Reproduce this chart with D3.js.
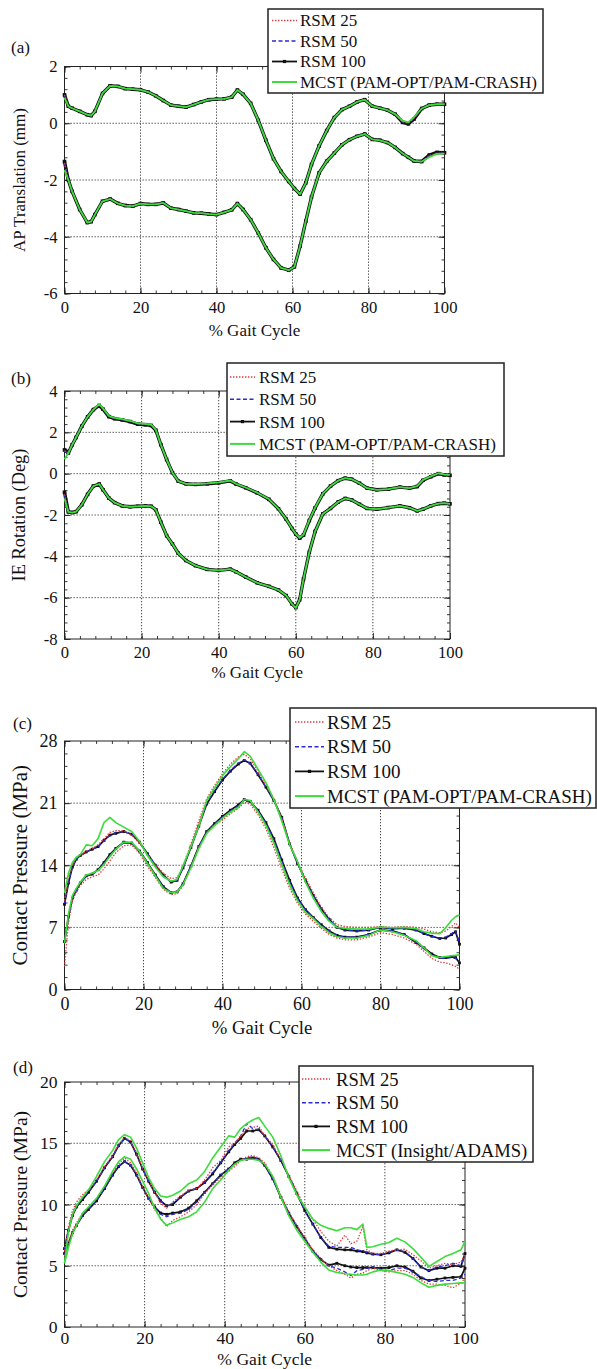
<!DOCTYPE html>
<html>
<head>
<meta charset="utf-8">
<script src="https://cdn.jsdelivr.net/npm/d3@7"></script>
<style>
  body { margin: 0; background: #fff; }
  svg { display: block; font-family: "Liberation Serif", "Times New Roman", serif; }
</style>
</head>
<body>
<div id="chart"></div>
<script>
// ---- data ----
const xTicks = [0, 20, 40, 60, 80, 100];

// (a) AP translation
const xA = [0,1,2,4,6,7,8,10,12,14,16,18,20,22,24,26,28,30,32,34,36,38,40,42,44,45.5,47,49,51,53,55,57,59,60.5,62,63.5,65,67,69,71,73,75,77,79,81,83,85,87,89,90.5,92,94,96,98,100];
const aUpMCST = [0.9,0.6,0.53,0.42,0.3,0.27,0.42,1.05,1.32,1.3,1.22,1.2,1.18,1.1,0.97,0.8,0.64,0.6,0.57,0.66,0.75,0.83,0.85,0.86,0.92,1.17,1.02,0.7,0.1,-0.6,-1.25,-1.7,-2.05,-2.3,-2.5,-2.1,-1.45,-0.8,-0.26,0.2,0.48,0.6,0.75,0.83,0.6,0.53,0.46,0.32,0.08,0.04,0.22,0.52,0.64,0.67,0.67];
const aUpR100 = [1.0,0.6,0.53,0.42,0.3,0.27,0.42,1.05,1.32,1.3,1.22,1.2,1.18,1.1,0.97,0.8,0.64,0.6,0.57,0.66,0.75,0.83,0.85,0.86,0.92,1.17,1.02,0.7,0.1,-0.6,-1.25,-1.7,-2.05,-2.3,-2.5,-2.1,-1.45,-0.8,-0.26,0.2,0.48,0.6,0.75,0.83,0.6,0.53,0.46,0.32,0.03,-0.02,0.15,0.52,0.64,0.67,0.67];
const aUpR50 = [1.0,0.6,0.53,0.42,0.3,0.27,0.42,1.05,1.32,1.3,1.22,1.2,1.18,1.1,0.97,0.8,0.64,0.6,0.57,0.66,0.75,0.83,0.85,0.86,0.92,1.17,1.02,0.7,0.1,-0.6,-1.25,-1.7,-2.05,-2.3,-2.5,-2.1,-1.45,-0.8,-0.26,0.2,0.48,0.6,0.75,0.83,0.6,0.53,0.46,0.32,0.04,0.0,0.17,0.52,0.64,0.67,0.67];
const aUpR25 = [1.0,0.6,0.53,0.42,0.3,0.27,0.42,1.05,1.32,1.3,1.22,1.2,1.18,1.1,0.97,0.8,0.64,0.6,0.57,0.66,0.75,0.83,0.85,0.83,0.92,1.17,1.02,0.7,0.1,-0.6,-1.25,-1.7,-2.05,-2.3,-2.5,-2.1,-1.45,-0.8,-0.26,0.2,0.48,0.6,0.75,0.83,0.6,0.53,0.46,0.32,0.05,0.01,0.18,0.52,0.64,0.67,0.67];
const aLoMCST = [-1.65,-2.0,-2.4,-3.04,-3.5,-3.47,-3.22,-2.75,-2.67,-2.82,-2.9,-2.92,-2.83,-2.86,-2.86,-2.81,-2.99,-3.04,-3.1,-3.16,-3.17,-3.2,-3.22,-3.14,-3.05,-2.83,-3.04,-3.4,-3.87,-4.39,-4.8,-5.1,-5.18,-5.06,-4.33,-3.45,-2.6,-1.75,-1.34,-1.05,-0.76,-0.58,-0.46,-0.38,-0.57,-0.6,-0.68,-0.85,-1.07,-1.2,-1.33,-1.35,-1.2,-1.08,-1.07];
const aLoR100 = [-1.35,-2.0,-2.4,-3.04,-3.5,-3.47,-3.22,-2.75,-2.67,-2.82,-2.9,-2.92,-2.83,-2.86,-2.86,-2.81,-2.99,-3.04,-3.1,-3.16,-3.17,-3.2,-3.22,-3.14,-3.05,-2.83,-3.04,-3.4,-3.87,-4.39,-4.8,-5.1,-5.18,-5.06,-4.33,-3.45,-2.6,-1.75,-1.34,-1.05,-0.76,-0.58,-0.46,-0.38,-0.57,-0.6,-0.68,-0.85,-1.07,-1.2,-1.33,-1.35,-1.12,-1.03,-1.04];
const aLoR50 = [-1.4,-2.0,-2.4,-3.04,-3.5,-3.47,-3.22,-2.75,-2.67,-2.82,-2.9,-2.92,-2.83,-2.86,-2.86,-2.81,-2.99,-3.04,-3.1,-3.16,-3.17,-3.2,-3.22,-3.14,-3.05,-2.83,-3.04,-3.4,-3.87,-4.39,-4.8,-5.1,-5.18,-5.06,-4.33,-3.45,-2.6,-1.75,-1.34,-1.05,-0.76,-0.58,-0.46,-0.38,-0.57,-0.6,-0.68,-0.85,-1.07,-1.2,-1.33,-1.35,-1.14,-1.05,-1.05];
const aLoR25 = [-1.4,-2.0,-2.4,-3.04,-3.5,-3.47,-3.22,-2.75,-2.67,-2.82,-2.9,-2.92,-2.83,-2.86,-2.86,-2.81,-2.99,-3.04,-3.1,-3.16,-3.17,-3.2,-3.22,-3.14,-3.05,-2.83,-3.04,-3.4,-3.87,-4.39,-4.8,-5.1,-5.18,-5.06,-4.33,-3.45,-2.6,-1.75,-1.34,-1.05,-0.76,-0.58,-0.46,-0.38,-0.57,-0.6,-0.68,-0.85,-1.07,-1.2,-1.33,-1.35,-1.15,-1.06,-1.05];

// (b) IE rotation
const xB = [0,1,2,3,4.5,6,7.5,9,10,11.5,13,15,17,19,21,22.5,23.7,25,26.5,28,29.5,31.5,34,37,40,43,44.5,47,50,53,55.5,57.5,59,60,61,62,63.5,65,67,69,71,72.8,74.5,76.5,78.5,81,84,87,89.5,91.5,93,95,97,98.5,100];
const bUpMCST = [0.7,1.0,1.4,1.75,2.3,2.75,3.1,3.37,3.16,2.79,2.7,2.64,2.56,2.44,2.41,2.37,2.12,1.4,0.68,0.05,-0.36,-0.49,-0.5,-0.47,-0.42,-0.33,-0.49,-0.67,-0.92,-1.23,-1.7,-2.2,-2.65,-2.92,-3.1,-2.95,-2.25,-1.65,-0.97,-0.6,-0.34,-0.22,-0.27,-0.46,-0.7,-0.78,-0.75,-0.65,-0.7,-0.6,-0.3,-0.13,0.02,-0.04,-0.06];
const bUpR100 = [1.15,1.0,1.4,1.75,2.3,2.75,3.1,3.3,3.12,2.76,2.66,2.6,2.52,2.4,2.37,2.33,2.1,1.4,0.68,0.05,-0.36,-0.49,-0.52,-0.49,-0.44,-0.35,-0.5,-0.68,-0.93,-1.24,-1.7,-2.2,-2.65,-2.92,-3.12,-2.97,-2.27,-1.66,-0.98,-0.6,-0.34,-0.22,-0.27,-0.46,-0.7,-0.78,-0.75,-0.65,-0.7,-0.62,-0.32,-0.15,0.0,-0.06,-0.08];
const bUpR50 = [1.1,1.0,1.4,1.75,2.3,2.75,3.1,3.32,3.13,2.77,2.67,2.61,2.53,2.41,2.38,2.34,2.1,1.4,0.68,0.05,-0.36,-0.49,-0.51,-0.48,-0.43,-0.34,-0.5,-0.68,-0.93,-1.24,-1.7,-2.2,-2.65,-2.92,-3.11,-2.96,-2.26,-1.65,-0.97,-0.6,-0.34,-0.22,-0.27,-0.46,-0.7,-0.78,-0.75,-0.65,-0.7,-0.61,-0.31,-0.14,0.01,-0.05,-0.07];
const bUpR25 = [1.1,1.0,1.4,1.75,2.3,2.75,3.1,3.33,3.14,2.78,2.68,2.62,2.54,2.42,2.39,2.35,2.11,1.4,0.68,0.05,-0.36,-0.49,-0.51,-0.48,-0.43,-0.34,-0.5,-0.68,-0.93,-1.24,-1.7,-2.2,-2.65,-2.92,-3.11,-2.96,-2.26,-1.65,-0.97,-0.6,-0.34,-0.22,-0.27,-0.46,-0.7,-0.78,-0.75,-0.65,-0.7,-0.61,-0.31,-0.14,0.01,-0.05,-0.07];
const bLoMCST = [-1.2,-1.85,-1.88,-1.84,-1.5,-1.0,-0.6,-0.5,-0.78,-1.18,-1.4,-1.56,-1.6,-1.58,-1.56,-1.58,-1.75,-2.35,-3.0,-3.4,-3.85,-4.2,-4.45,-4.63,-4.68,-4.62,-4.75,-5.0,-5.28,-5.45,-5.63,-5.9,-6.3,-6.5,-6.1,-5.1,-3.8,-2.8,-1.95,-1.68,-1.37,-1.2,-1.27,-1.48,-1.68,-1.72,-1.64,-1.56,-1.65,-1.8,-1.72,-1.56,-1.45,-1.43,-1.46];
const bLoR100 = [-0.9,-1.85,-1.88,-1.84,-1.5,-1.0,-0.6,-0.5,-0.78,-1.18,-1.4,-1.56,-1.6,-1.58,-1.56,-1.58,-1.75,-2.35,-3.0,-3.4,-3.85,-4.2,-4.45,-4.63,-4.68,-4.62,-4.75,-5.0,-5.28,-5.45,-5.63,-5.9,-6.3,-6.48,-6.1,-5.1,-3.8,-2.8,-1.95,-1.68,-1.37,-1.2,-1.27,-1.48,-1.68,-1.72,-1.64,-1.56,-1.65,-1.8,-1.72,-1.56,-1.45,-1.43,-1.46];
const bLoR50 = [-1.0,-1.85,-1.88,-1.84,-1.5,-1.0,-0.6,-0.5,-0.78,-1.18,-1.4,-1.56,-1.6,-1.58,-1.56,-1.58,-1.75,-2.35,-3.0,-3.4,-3.85,-4.2,-4.45,-4.63,-4.68,-4.62,-4.75,-5.0,-5.28,-5.45,-5.63,-5.9,-6.3,-6.49,-6.1,-5.1,-3.8,-2.8,-1.95,-1.68,-1.37,-1.2,-1.27,-1.48,-1.68,-1.72,-1.64,-1.56,-1.65,-1.8,-1.72,-1.56,-1.45,-1.43,-1.46];
const bLoR25 = [-1.0,-1.85,-1.88,-1.84,-1.5,-1.0,-0.6,-0.5,-0.78,-1.18,-1.4,-1.56,-1.6,-1.58,-1.56,-1.58,-1.75,-2.35,-3.0,-3.4,-3.85,-4.2,-4.45,-4.63,-4.68,-4.62,-4.75,-5.0,-5.28,-5.45,-5.63,-5.9,-6.3,-6.49,-6.1,-5.1,-3.8,-2.8,-1.95,-1.68,-1.37,-1.2,-1.27,-1.48,-1.68,-1.72,-1.64,-1.56,-1.65,-1.8,-1.72,-1.56,-1.45,-1.43,-1.46];

// (c) contact pressure, PAM-OPT/PAM-CRASH
const xC = [0,1,2,3,4,5.5,7,8.5,10,11.5,13,15,17,19,21,23,25,27,28.5,30,32,34,36,38,40,42,44,45.5,47,49,51,53,55,57,59,61,63,65,67,69,71,74,77,80,83,86,89,91,93,95,96.5,98,99,100];
const cUpMCST = [10.9,13.1,14.3,14.9,15.2,16.3,16.2,17.0,18.8,19.4,18.8,18.3,17.8,16.7,15.1,13.8,12.7,12.2,12.4,13.9,16.1,18.4,21.3,22.7,24.1,25.1,26.0,26.8,26.3,24.8,23.3,21.4,19.0,16.3,14.4,12.1,10.3,8.8,7.7,7.0,6.9,6.8,6.8,7.05,6.95,7.0,6.85,6.5,6.35,6.3,6.95,7.8,8.2,8.4];
const cUpR100 = [9.6,12.0,13.8,14.7,15.1,15.5,15.8,16.1,16.8,17.4,17.6,17.8,17.5,16.6,15.3,14.0,12.9,12.1,12.3,13.7,16.0,18.4,20.9,22.3,23.6,24.6,25.4,25.8,25.5,24.2,22.8,21.3,19.4,16.4,14.2,12.3,10.6,9.1,7.9,7.0,6.7,6.6,6.7,7.0,6.85,6.9,6.7,6.3,6.0,5.75,5.8,6.2,6.5,5.1];
const cUpR50 = [9.7,12.1,13.8,14.7,15.1,15.5,15.8,16.1,16.8,17.4,17.7,17.8,17.5,16.6,15.3,14.0,12.9,12.1,12.3,13.7,16.0,18.5,21.0,22.4,23.7,24.7,25.5,25.9,25.5,24.2,22.8,21.3,19.4,16.4,14.2,12.3,10.6,9.1,7.9,7.0,6.7,6.6,6.7,7.0,6.85,6.9,6.7,6.3,6.0,5.8,5.9,6.3,6.6,5.3];
const cUpR25 = [10.0,12.5,14.0,14.8,15.1,15.6,15.9,16.3,17.0,17.7,17.9,17.9,17.4,16.5,15.2,14.1,13.1,12.5,12.6,13.9,16.4,19.0,21.5,23.0,24.3,25.4,26.2,26.5,26.0,24.6,23.0,21.5,19.3,16.6,14.4,12.6,10.9,9.3,8.1,7.3,7.1,7.0,7.0,7.1,7.0,7.1,7.0,6.8,6.5,6.4,6.6,7.1,7.5,7.0];
const cLoMCST = [5.2,8.5,10.6,11.4,12.1,12.9,13.1,13.4,14.1,15.0,15.8,16.6,16.6,15.6,14.2,12.8,11.4,10.9,11.0,11.8,13.7,15.9,17.6,18.5,19.3,20.0,20.5,21.4,21.3,20.0,18.5,16.5,14.1,11.8,10.0,8.7,8.0,7.1,6.4,5.95,5.8,5.8,6.1,6.7,6.5,6.1,5.5,4.7,3.8,3.6,3.7,3.8,3.85,3.9];
const cLoR100 = [5.4,8.2,10.3,11.2,12.0,12.8,13.0,13.5,14.3,15.2,15.9,16.6,16.5,15.6,14.3,12.9,11.6,10.9,11.0,11.9,13.9,16.1,17.8,18.7,19.5,20.2,20.8,21.4,21.2,20.2,18.8,17.0,14.6,12.3,10.3,9.0,8.1,7.3,6.6,6.1,5.9,5.9,6.2,6.7,6.6,6.2,5.3,4.7,4.0,3.6,3.6,3.7,3.6,3.0];
const cLoR50 = [5.3,8.1,10.3,11.2,12.0,12.8,13.0,13.4,14.2,15.1,15.9,16.5,16.5,15.5,14.2,12.9,11.6,10.9,11.0,11.9,13.9,16.1,17.8,18.7,19.4,20.1,20.7,21.3,21.1,20.1,18.7,16.9,14.5,12.2,10.3,9.0,8.1,7.3,6.6,6.1,5.9,5.9,6.2,6.7,6.6,6.2,5.3,4.6,3.9,3.5,3.5,3.6,3.5,3.1];
const cLoR25 = [2.6,7.5,10.0,11.0,11.7,12.4,12.7,12.9,13.6,14.5,15.4,16.2,16.3,15.3,13.9,12.6,11.3,10.7,10.8,11.7,13.8,16.0,17.6,18.5,19.1,19.8,20.4,21.1,20.9,19.7,18.1,16.0,13.6,11.4,9.7,8.5,7.7,6.9,6.2,5.8,5.6,5.6,5.9,6.4,6.2,5.8,5.1,4.3,3.5,3.1,3.0,2.8,2.6,2.3];

// (d) contact pressure, Insight/ADAMS
const xD = [0,1,2,3,4.5,6,8,10,12,13.5,15,16.5,18,19.5,21,22.5,24,25.5,27,29,31,33,35,37,39,41,42.5,44,45.5,47,48.5,50,52,54,56,58,60,62,64,66,68,70,71.5,73,74.5,75.5,77,79,81,83,85,87,89,91,93,95,97,99,100];
const dUpMCST = [5.2,7.8,9.2,9.9,10.6,11.2,12.3,13.5,14.4,15.3,15.7,15.5,14.6,13.4,12.2,11.3,10.7,10.6,10.75,11.1,11.7,12.0,12.7,13.8,14.7,15.6,15.5,16.2,16.6,16.9,17.1,16.4,15.5,14.0,12.2,10.8,9.8,8.8,8.3,8.05,7.85,8.1,8.1,7.95,8.4,6.5,6.55,6.75,6.9,7.25,6.95,6.4,5.7,4.95,5.35,5.75,6.0,6.3,7.0];
const dUpR100 = [6.4,7.9,9.1,9.8,10.4,11.0,11.9,13.0,13.9,14.8,15.4,15.1,14.1,12.9,11.9,11.0,10.3,9.9,10.0,10.6,11.1,11.3,11.8,12.5,13.4,14.3,14.9,15.4,16.0,16.0,16.1,15.6,14.7,13.6,12.3,10.9,9.5,8.4,7.3,6.5,6.35,6.3,6.3,6.2,6.15,6.05,5.95,5.9,6.05,6.3,6.1,5.6,4.9,4.6,4.8,4.8,5.0,4.95,6.0];
const dUpR50 = [6.3,8.0,9.2,9.9,10.5,11.0,11.9,13.0,13.9,14.8,15.4,15.1,14.1,12.9,11.9,11.0,10.3,9.9,10.1,10.6,11.1,11.3,11.8,12.6,13.4,14.4,15.0,15.6,16.6,16.2,16.1,15.6,14.7,13.6,12.3,10.9,9.5,8.4,7.3,6.6,6.5,6.5,6.5,6.3,6.2,6.1,5.95,5.9,6.1,6.3,6.15,5.6,4.9,4.6,4.9,5.0,5.2,5.0,5.8];
const dUpR25 = [6.2,8.2,9.5,10.2,10.8,11.2,12.0,13.1,14.0,14.9,15.5,15.2,14.2,13.0,12.0,11.0,10.1,9.7,10.2,10.7,11.2,11.3,12.0,13.0,13.6,14.7,15.0,15.6,16.2,16.3,16.4,15.6,14.9,13.7,12.4,11.1,9.8,8.8,7.8,7.0,6.6,7.5,6.8,7.0,8.2,6.3,6.0,6.0,6.2,6.3,6.35,5.9,5.4,4.8,5.0,5.2,5.1,5.3,5.9];
const dLoMCST = [5.2,6.5,7.6,8.3,9.3,9.8,10.5,11.5,12.7,13.5,13.9,13.7,12.9,11.9,10.9,9.7,8.8,8.3,8.5,8.8,9.0,9.4,10.2,11.3,12.0,12.8,13.3,13.6,13.7,13.7,13.6,13.3,12.3,10.6,9.1,7.9,7.0,6.1,5.3,4.65,4.45,4.35,4.3,4.25,4.25,4.3,4.5,4.65,4.6,4.45,4.3,4.05,3.6,3.25,3.4,3.5,3.55,3.6,3.6];
const dLoR100 = [6.0,6.8,7.7,8.3,9.1,9.6,10.3,11.3,12.4,13.1,13.5,13.2,12.4,11.4,10.5,9.8,9.3,9.2,9.3,9.4,9.7,10.3,11.0,11.7,12.4,12.9,13.4,13.7,13.7,13.8,13.7,13.2,12.1,10.6,9.3,8.2,7.2,6.2,5.5,5.05,5.2,5.0,4.9,4.85,4.85,4.85,4.85,4.8,4.85,5.0,4.9,4.55,4.0,3.8,3.9,4.0,4.05,4.1,4.8];
const dLoR50 = [5.9,6.8,7.7,8.3,9.1,9.6,10.3,11.3,12.4,13.1,13.5,13.2,12.4,11.4,10.5,9.8,9.2,9.0,9.2,9.3,9.6,10.2,11.0,11.7,12.4,12.9,13.3,13.6,13.8,13.9,13.7,13.2,12.1,10.6,9.3,8.2,7.2,6.2,5.5,5.0,4.8,4.5,4.2,4.6,4.7,4.8,4.9,4.7,4.6,4.8,4.8,4.5,4.1,3.8,3.7,3.8,3.8,4.0,4.3];
const dLoR25 = [5.8,6.9,7.9,8.5,9.3,9.8,10.5,11.5,12.6,13.3,13.8,13.4,12.6,11.5,10.5,9.6,8.9,8.2,8.7,9.0,9.4,10.0,10.9,11.6,12.2,12.7,13.1,13.6,13.9,14.0,13.8,13.4,12.3,10.8,9.4,8.3,7.3,6.3,5.6,5.0,4.6,4.3,4.0,4.3,4.4,4.6,4.8,4.6,4.5,4.6,4.6,4.3,3.8,3.5,3.5,3.4,3.2,3.6,4.0];

const legendA = ["RSM 25", "RSM 50", "RSM 100", "MCST (PAM-OPT/PAM-CRASH)"];
const legendD = ["RSM 25", "RSM 50", "RSM 100", "MCST (Insight/ADAMS)"];

// ---- layout per panel ----
const panels = [
  { tag: "(a)", x: xA, yDomain: [-6, 2], yTicks: [-6, -4, -2, 0, 2], yMinor: 0.4,
    yTitle: "AP Translation (mm)", names: legendA,
    curves: { r25: [aUpR25, aLoR25], r50: [aUpR50, aLoR50], r100: [aUpR100, aLoR100], mcst: [aUpMCST, aLoMCST] },
    box: { l: 64.5, r: 444.5, t: 66.5, b: 293.5 }, fs: 16.6, titleFs: 17, yTitleFs: 17, yTitleX: 19,
    xLabelY: 308, xTitleY: 330, tagPos: [11, 47], thick: true,
    leg: { x: 268, y: 9, w: 275, h: 84, row0: 20.5, step: 20.5, fs: 17, l0: 272, l1: 297, tx: 300 } },
  { tag: "(b)", x: xB, yDomain: [-8, 4], yTicks: [-8, -6, -4, -2, 0, 2, 4], yMinor: 0.4,
    yTitle: "IE Rotation (Deg)", names: legendA,
    curves: { r25: [bUpR25, bLoR25], r50: [bUpR50, bLoR50], r100: [bUpR100, bLoR100], mcst: [bUpMCST, bLoMCST] },
    box: { l: 64.5, r: 450, t: 391, b: 639 }, fs: 16.6, titleFs: 17, yTitleFs: 18.4, yTitleX: 19,
    xLabelY: 652.5, xTitleY: 672, tagPos: [11, 378], thick: true,
    leg: { x: 227, y: 363, w: 277, h: 93, row0: 377, step: 22.3, fs: 17, l0: 230, l1: 255, tx: 259 } },
  { tag: "(c)", x: xC, yDomain: [0, 28], yTicks: [0, 7, 14, 21, 28], yMinor: 1.4,
    yTitle: "Contact Pressure (MPa)", names: legendA,
    curves: { r25: [cUpR25, cLoR25], r50: [cUpR50, cLoR50], r100: [cUpR100, cLoR100], mcst: [cUpMCST, cLoMCST] },
    box: { l: 64.5, r: 459.5, t: 741, b: 989.5 }, fs: 18, titleFs: 18.7, yTitleFs: 21, yTitleX: 20,
    xLabelY: 1004, xTitleY: 1027, tagPos: [13, 723], thick: false,
    leg: { x: 290, y: 708, w: 306, h: 100, row0: 722, step: 24.7, fs: 19, l0: 295, l1: 324, tx: 327 } },
  { tag: "(d)", x: xD, yDomain: [0, 20], yTicks: [0, 5, 10, 15, 20], yMinor: 1,
    yTitle: "Contact Pressure (MPa)", names: legendD,
    curves: { r25: [dUpR25, dLoR25], r50: [dUpR50, dLoR50], r100: [dUpR100, dLoR100], mcst: [dUpMCST, dLoMCST] },
    box: { l: 64.5, r: 465, t: 1082, b: 1327 }, fs: 17.6, titleFs: 17.6, yTitleFs: 19.6, yTitleX: 20,
    xLabelY: 1338, xTitleY: 1359, tagPos: [13, 1067], thick: false,
    leg: { x: 299, y: 1066, w: 234, h: 96, row0: 1079, step: 23.7, fs: 18.6, l0: 302, l1: 330, tx: 336 } }
];

const RED = "#e2393b", BLUE = "#2b2bd4", BLACK = "#111", GREEN = "#3ddc3d";

const svg = d3.select("#chart").append("svg")
    .attr("width", 597)
    .attr("height", 1369);

panels.forEach(p => drawPanel(p));

function drawPanel(p) {
  const b = p.box;
  const x = d3.scaleLinear().domain([0, 100]).range([b.l, b.r]);
  const y = d3.scaleLinear().domain(p.yDomain).range([b.b, b.t]);
  const g = svg.append("g");

  // dotted grid at interior major ticks
  g.append("g").selectAll("line").data(xTicks.slice(1, -1)).join("line")
      .attr("x1", d => x(d)).attr("x2", d => x(d))
      .attr("y1", b.t).attr("y2", b.b);
  g.append("g").selectAll("line").data(p.yTicks.slice(1, -1)).join("line")
      .attr("x1", b.l).attr("x2", b.r)
      .attr("y1", d => y(d)).attr("y2", d => y(d));
  g.selectAll("line").attr("stroke", "#333").attr("stroke-width", 0.9).attr("stroke-dasharray", "1.3,1.7");

  // inward ticks on all four sides
  const xMinor = d3.range(0, 100.001, 4);
  const yMinor = d3.range(0, Math.round((p.yDomain[1] - p.yDomain[0]) / p.yMinor) + 1)
      .map(i => p.yDomain[0] + i * p.yMinor);
  const tickAxes = [
    [d3.axisBottom(x), b.b, "y", xMinor, xTicks],
    [d3.axisTop(x), b.t, "y", xMinor, xTicks],
    [d3.axisLeft(y), b.l, "x", yMinor, p.yTicks],
    [d3.axisRight(y), b.r, "x", yMinor, p.yTicks]
  ];
  tickAxes.forEach(([ax, pos, dir, minor, major]) => {
    [[minor, -3], [major, -6]].forEach(([vals, len]) => {
      const a = g.append("g")
          .attr("transform", dir === "y" ? `translate(0,${pos})` : `translate(${pos},0)`)
          .call(ax.tickValues(vals).tickSizeInner(len).tickSizeOuter(0).tickFormat(""));
      a.select(".domain").remove();
      a.selectAll("line").attr("stroke", "#222").attr("stroke-width", 0.9);
    });
  });

  // tick labels
  const xl = g.append("g").attr("transform", `translate(0,${b.b})`)
      .call(d3.axisBottom(x).tickValues(xTicks).tickSize(0)
        .tickPadding(p.xLabelY - b.b - 0.38 * p.fs).tickFormat(d3.format("d")));
  const yl = g.append("g").attr("transform", `translate(${b.l},0)`)
      .call(d3.axisLeft(y).tickValues(p.yTicks).tickSize(0).tickPadding(7).tickFormat(d3.format("d")));
  [xl, yl].forEach(a => {
    a.select(".domain").remove();
    a.selectAll("text").attr("font-family", "Liberation Serif").attr("font-size", p.fs).attr("fill", "#111");
  });
  yl.selectAll("text").text(d => d < 0 ? "-" + Math.abs(d) : d);

  // frame
  g.append("rect")
      .attr("x", b.l).attr("y", b.t)
      .attr("width", b.r - b.l).attr("height", b.b - b.t)
      .attr("fill", "none").attr("stroke", "#222").attr("stroke-width", 1);

  // curves
  const line = d3.line().x(d => x(d[0])).y(d => y(d[1]));
  const pts = arr => arr.map((v, i) => [p.x[i], v]);
  const wBlack = p.thick ? 3.4 : 1.7;
  const wGreen = p.thick ? 1.8 : 1.6;
  const curveG = g.append("g");

  p.curves.r100.forEach(arr => {
    curveG.append("path").attr("d", line(pts(arr)))
        .attr("fill", "none").attr("stroke", BLACK).attr("stroke-width", wBlack)
        .attr("stroke-linejoin", "round");
    const m = p.thick ? 3.6 : 2.8;
    curveG.append("g").selectAll("rect").data(pts(arr)).join("rect")
        .attr("x", d => x(d[0]) - m / 2).attr("y", d => y(d[1]) - m / 2)
        .attr("width", m).attr("height", m).attr("fill", BLACK);
  });
  p.curves.r50.forEach(arr => {
    curveG.append("path").attr("d", line(pts(arr)))
        .attr("fill", "none").attr("stroke", BLUE).attr("stroke-width", 1.3)
        .attr("stroke-dasharray", "4,2.5");
  });
  p.curves.r25.forEach(arr => {
    curveG.append("path").attr("d", line(pts(arr)))
        .attr("fill", "none").attr("stroke", RED).attr("stroke-width", 1.3)
        .attr("stroke-dasharray", "1.4,1.6");
  });
  p.curves.mcst.forEach(arr => {
    curveG.append("path").attr("d", line(pts(arr)))
        .attr("fill", "none").attr("stroke", GREEN).attr("stroke-width", wGreen)
        .attr("stroke-linejoin", "round");
  });

  // axis titles and panel tag
  g.append("text")
      .attr("x", (b.l + b.r) / 2).attr("y", p.xTitleY).attr("dy", "0.35em")
      .attr("text-anchor", "middle").attr("font-size", p.titleFs).attr("fill", "#111")
      .text("% Gait Cycle");
  g.append("text")
      .attr("transform", `translate(${p.yTitleX},${(b.t + b.b) / 2}) rotate(-90)`)
      .attr("dy", "0.35em").attr("text-anchor", "middle")
      .attr("font-size", p.yTitleFs).attr("fill", "#111")
      .text(p.yTitle);
  g.append("text")
      .attr("x", p.tagPos[0]).attr("y", p.tagPos[1]).attr("dy", "0.35em")
      .attr("font-size", 17).attr("fill", "#111")
      .text(p.tag);

  // legend
  const L = p.leg;
  const lg = g.append("g");
  lg.append("rect")
      .attr("x", L.x).attr("y", L.y).attr("width", L.w).attr("height", L.h)
      .attr("fill", "#fff").attr("stroke", "#222").attr("stroke-width", 1.5);
  const styles = [
    { stroke: RED, dash: "1.4,1.6", w: 1.4 },
    { stroke: BLUE, dash: "4,2.5", w: 1.4 },
    { stroke: BLACK, dash: null, w: 1.8, marker: true },
    { stroke: GREEN, dash: null, w: 2 }
  ];
  const rows = lg.selectAll("g.row").data(p.names).join("g")
      .attr("class", "row")
      .attr("transform", (d, i) => `translate(0,${L.row0 + i * L.step})`);
  rows.append("line")
      .attr("x1", L.l0).attr("x2", L.l1)
      .attr("stroke", (d, i) => styles[i].stroke)
      .attr("stroke-width", (d, i) => styles[i].w)
      .attr("stroke-dasharray", (d, i) => styles[i].dash);
  rows.filter((d, i) => styles[i].marker).append("rect")
      .attr("x", (L.l0 + L.l1) / 2 - 1.6).attr("y", -1.6)
      .attr("width", 3.2).attr("height", 3.2).attr("fill", BLACK);
  rows.append("text")
      .attr("x", L.tx).attr("dy", "0.35em")
      .attr("font-size", L.fs).attr("fill", "#111")
      .text(d => d);
}
</script>
</body>
</html>
